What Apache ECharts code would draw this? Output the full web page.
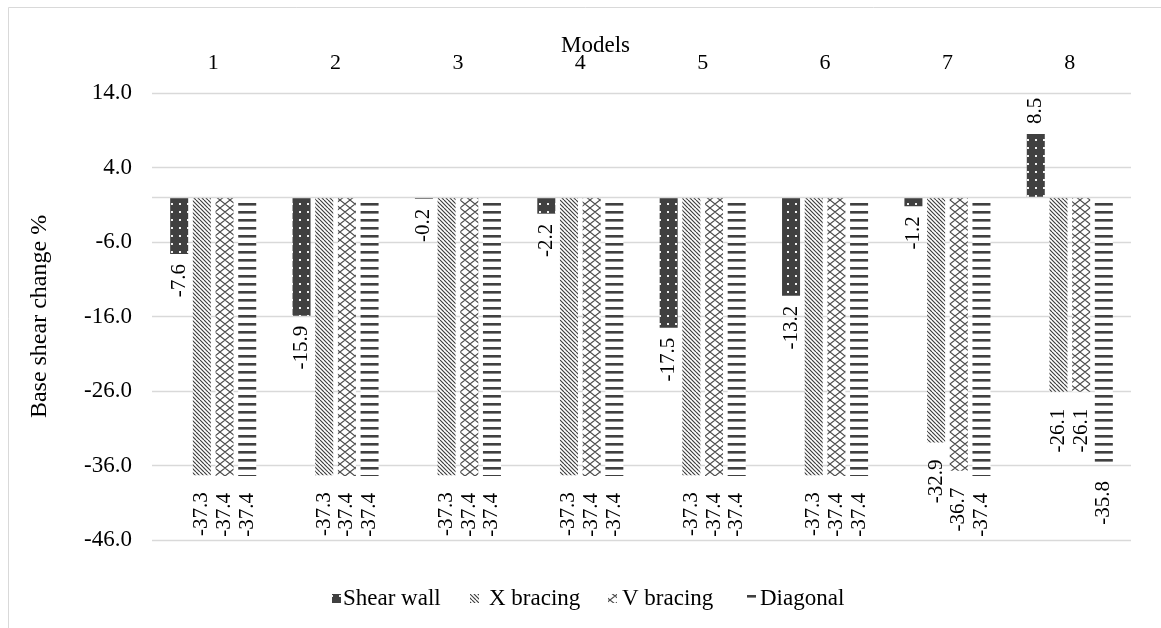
<!DOCTYPE html>
<html>
<head>
<meta charset="utf-8">
<script src="https://cdn.jsdelivr.net/npm/echarts@6/dist/echarts.min.js"></script>
<style>
  html, body { margin: 0; padding: 0; background: #ffffff; }
  #chart { width: 1161px; height: 628px; }
</style>
</head>
<body>
<div id="chart"></div>
<script>
// Base shear change (%) per model for each lateral system
const models = ['1', '2', '3', '4', '5', '6', '7', '8'];
const shearWall = [-7.6, -15.9, -0.2, -2.2, -17.5, -13.2, -1.2, 8.5];
const xBracing = [-37.3, -37.3, -37.3, -37.3, -37.3, -37.3, -32.9, -26.1];
const vBracing = [-37.4, -37.4, -37.4, -37.4, -37.4, -37.4, -36.7, -26.1];
const diagonal = [-37.4, -37.4, -37.4, -37.4, -37.4, -37.4, -37.4, -35.8];
const seriesNames = ['Shear wall', 'X bracing', 'V bracing', 'Diagonal'];
const yMin = -46, yMax = 14, yStep = 10;

const FONT = 'Liberation Serif';
const INK = '#404040';

function tile(w, h, draw) {
  const c = document.createElement('canvas');
  c.width = w; c.height = h;
  const ctx = c.getContext('2d');
  draw(ctx, w, h);
  return { image: c, repeat: 'repeat' };
}

// dark fill with small light dots
const dotFill = tile(8, 8, (ctx) => {
  ctx.fillStyle = INK; ctx.fillRect(0, 0, 8, 8);
  ctx.fillStyle = '#f2f2f2'; ctx.fillRect(3, 3, 2, 2);
});
// downward diagonal hatch
const hatchFill = tile(8, 8, (ctx) => {
  ctx.fillStyle = '#fff'; ctx.fillRect(0, 0, 8, 8);
  ctx.strokeStyle = INK; ctx.lineWidth = 1.2;
  ctx.beginPath();
  for (let k = -8; k <= 8; k += 4) { ctx.moveTo(k, 0); ctx.lineTo(k + 8, 8); }
  ctx.stroke();
});
// zigzag crossing
const zigFill = tile(10, 8, (ctx) => {
  ctx.fillStyle = '#fff'; ctx.fillRect(0, 0, 10, 8);
  ctx.strokeStyle = '#4a4a4a'; ctx.lineWidth = 1.1;
  ctx.beginPath();
  ctx.moveTo(0, 0); ctx.lineTo(5, 4); ctx.lineTo(10, 0);
  ctx.moveTo(0, 8); ctx.lineTo(5, 4); ctx.lineTo(10, 8);
  ctx.stroke();
});
// horizontal bars
const lineFill = tile(8, 8, (ctx) => {
  ctx.fillStyle = '#fff'; ctx.fillRect(0, 0, 8, 8);
  ctx.fillStyle = INK; ctx.fillRect(0, 3, 8, 2.6);
});

const fills = [dotFill, hatchFill, zigFill, lineFill];
const values = [shearWall, xBracing, vBracing, diagonal];

function labelled(arr) {
  return arr.map(v => ({
    value: v,
    label: {
      position: v >= 0 ? 'top' : 'bottom',
      align: v >= 0 ? 'left' : 'right'
    }
  }));
}

const series = seriesNames.map((name, i) => ({
  name: name,
  type: 'bar',
  barWidth: 18,
  barGap: '26%',
  data: labelled(values[i]),
  itemStyle: { color: fills[i] },
  label: {
    show: true,
    rotate: 90,
    verticalAlign: 'middle',
    distance: i === 0 ? 10 : 17,
    fontFamily: FONT,
    fontSize: 21,
    color: '#000',
    formatter: p => p.value.toFixed(1)
  },
  markLine: i === 0 ? {
    silent: true,
    symbol: 'none',
    label: { show: false },
    lineStyle: { color: '#d9d9d9', width: 1.3, type: 'solid' },
    data: [{ yAxis: 0 }]
  } : undefined
}));

// legend key: series names and their pattern swatches
const swatchX = [332, 470, 608, 747];
const nameX = [343, 489, 622, 760];
const legendTexts = seriesNames.map((name, i) => ({
  type: 'text', silent: true,
  left: nameX[i], top: 587,
  style: { text: name, font: '23px "Liberation Serif", serif', fill: '#000' }
}));
const legendSwatches = seriesNames.map((name, i) => ({
  type: 'rect', silent: true,
  shape: { x: swatchX[i], y: 594, width: 9, height: 9 },
  style: { fill: fills[i] }
}));

const chart = echarts.init(document.getElementById('chart'), null, { renderer: 'canvas' });
chart.setOption({
  animation: false,
  backgroundColor: '#ffffff',
  textStyle: { fontFamily: FONT, color: '#000' },
  grid: { left: 152, right: 30, top: 93, bottom: 88 },
  xAxis: {
    type: 'category',
    position: 'top',
    data: models,
    axisLine: { show: false },
    axisTick: { show: false },
    axisLabel: { margin: 19, fontFamily: FONT, fontSize: 22, color: '#000' }
  },
  yAxis: {
    type: 'value',
    min: yMin, max: yMax, interval: yStep,
    name: 'Base shear change %',
    nameLocation: 'middle',
    nameGap: 100,
    nameTextStyle: { fontFamily: FONT, fontSize: 24, color: '#000' },
    axisLine: { show: false },
    axisTick: { show: false },
    splitLine: { lineStyle: { color: '#d9d9d9', width: 1.3 } },
    axisLabel: {
      margin: 20, fontFamily: FONT, fontSize: 23, color: '#000',
      formatter: v => v.toFixed(1)
    }
  },
  graphic: [
    {
      type: 'rect', silent: true, z: -10,
      shape: { x: 8.5, y: 7.5, width: 1300, height: 800 },
      style: { fill: null, stroke: '#d9d9d9', lineWidth: 1 }
    },
    {
      type: 'text', left: 561, top: 34,
      style: { text: 'Models', fontFamily: FONT, fontSize: 23, fill: '#000' }
    }
  ].concat(legendTexts, legendSwatches),
  series: series
});
</script>
</body>
</html>
